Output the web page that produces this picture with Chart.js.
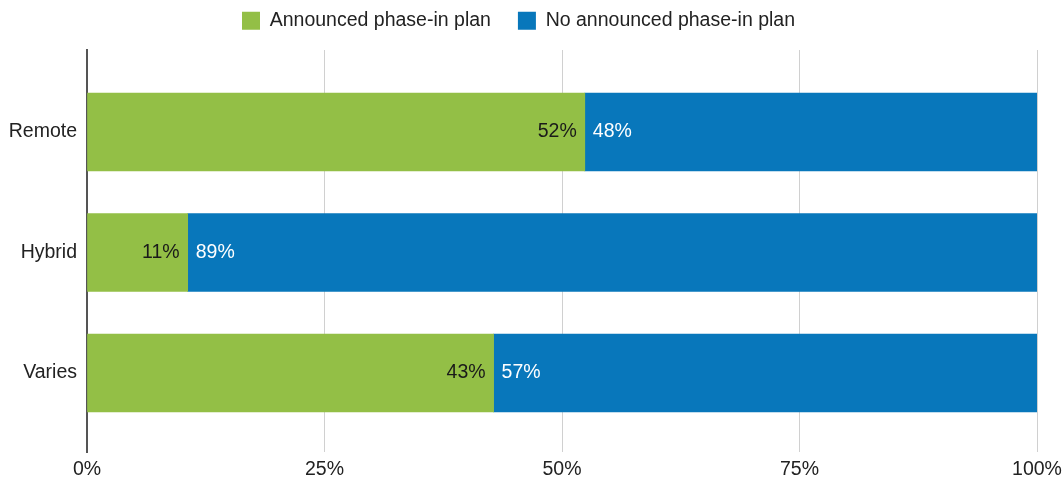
<!DOCTYPE html>
<html>
<head>
<meta charset="utf-8">
<script src="https://cdn.jsdelivr.net/npm/chart.js@4.4.1/dist/chart.umd.min.js"></script>
<style>
  html, body { margin: 0; padding: 0; background: #fff; }
  #wrap { width: 1063px; height: 482px; }
</style>
</head>
<body>
<div id="wrap"><canvas id="c" width="1063" height="482"></canvas></div>
<script>
const categories = ['Remote', 'Hybrid', 'Varies'];
const seriesNames = ['Announced phase-in plan', 'No announced phase-in plan'];
const announced = [52.4, 10.6, 42.8];
const notAnnounced = [47.6, 89.4, 57.2];
const xTicks = [0, 25, 50, 75, 100];

const FONT = "'Liberation Sans', Arial, sans-serif";
const FS = 19.5;
const GREEN = '#93bf46';
const BLUE = '#0877bb';

const labelPlugin = {
  id: 'barLabels',
  afterDatasetsDraw(chart) {
    const ctx = chart.ctx;
    ctx.save();
    ctx.font = FS + 'px ' + FONT;
    ctx.textBaseline = 'middle';
    chart.data.datasets.forEach((ds, di) => {
      const meta = chart.getDatasetMeta(di);
      meta.data.forEach((bar, i) => {
        const txt = Math.round(ds.data[i]) + '%';
        if (di === 0) {
          ctx.fillStyle = '#1a1a1a';
          ctx.textAlign = 'right';
          ctx.fillText(txt, bar.x - 8, bar.y);
        } else {
          ctx.fillStyle = '#ffffff';
          ctx.textAlign = 'left';
          ctx.fillText(txt, bar.base + 8, bar.y);
        }
      });
    });
    ctx.restore();
  }
};

const legendFitPlugin = {
  id: 'legendFit',
  beforeInit(chart) {
    const orig = chart.legend.fit;
    chart.legend.fit = function () {
      orig.call(this);
      this.height = 66;
    };
  }
};

new Chart(document.getElementById('c'), {
  type: 'bar',
  data: {
    labels: categories,
    datasets: [
      { label: seriesNames[0], data: announced, backgroundColor: GREEN, barThickness: 78 },
      { label: seriesNames[1], data: notAnnounced, backgroundColor: BLUE, barThickness: 78 }
    ]
  },
  options: {
    indexAxis: 'y',
    responsive: false,
    animation: false,
    layout: { padding: { top: -16, left: 0, right: 26, bottom: 0 } },
    plugins: {
      legend: {
        position: 'top',
        labels: {
          boxWidth: 18, boxHeight: 18, padding: 27,
          color: '#222', font: { family: FONT, size: FS }
        }
      },
      tooltip: { enabled: false }
    },
    scales: {
      x: {
        stacked: true, min: 0, max: 100,
        afterBuildTicks: s => { s.ticks = xTicks.map(v => ({ value: v })); },
        ticks: { callback: v => v + '%', color: '#222', font: { family: FONT, size: FS }, padding: 6, maxRotation: 0 },
        grid: { color: '#d0d0d0', lineWidth: 1, drawTicks: false },
        border: { display: false },
        afterFit: s => { s.height = 30; s.paddingLeft = 0; s.paddingRight = 0; }
      },
      y: {
        stacked: true,
        afterBuildTicks: s => { s._startValue = -0.6805; s._valueRange = 3.336; },
        ticks: { color: '#222', font: { family: FONT, size: FS }, padding: 10 },
        grid: { display: false, drawTicks: false },
        border: { display: true, color: '#555', width: 2 },
        afterFit: s => { s.width = 87; }
      }
    }
  },
  plugins: [labelPlugin, legendFitPlugin]
});
</script>
</body>
</html>
